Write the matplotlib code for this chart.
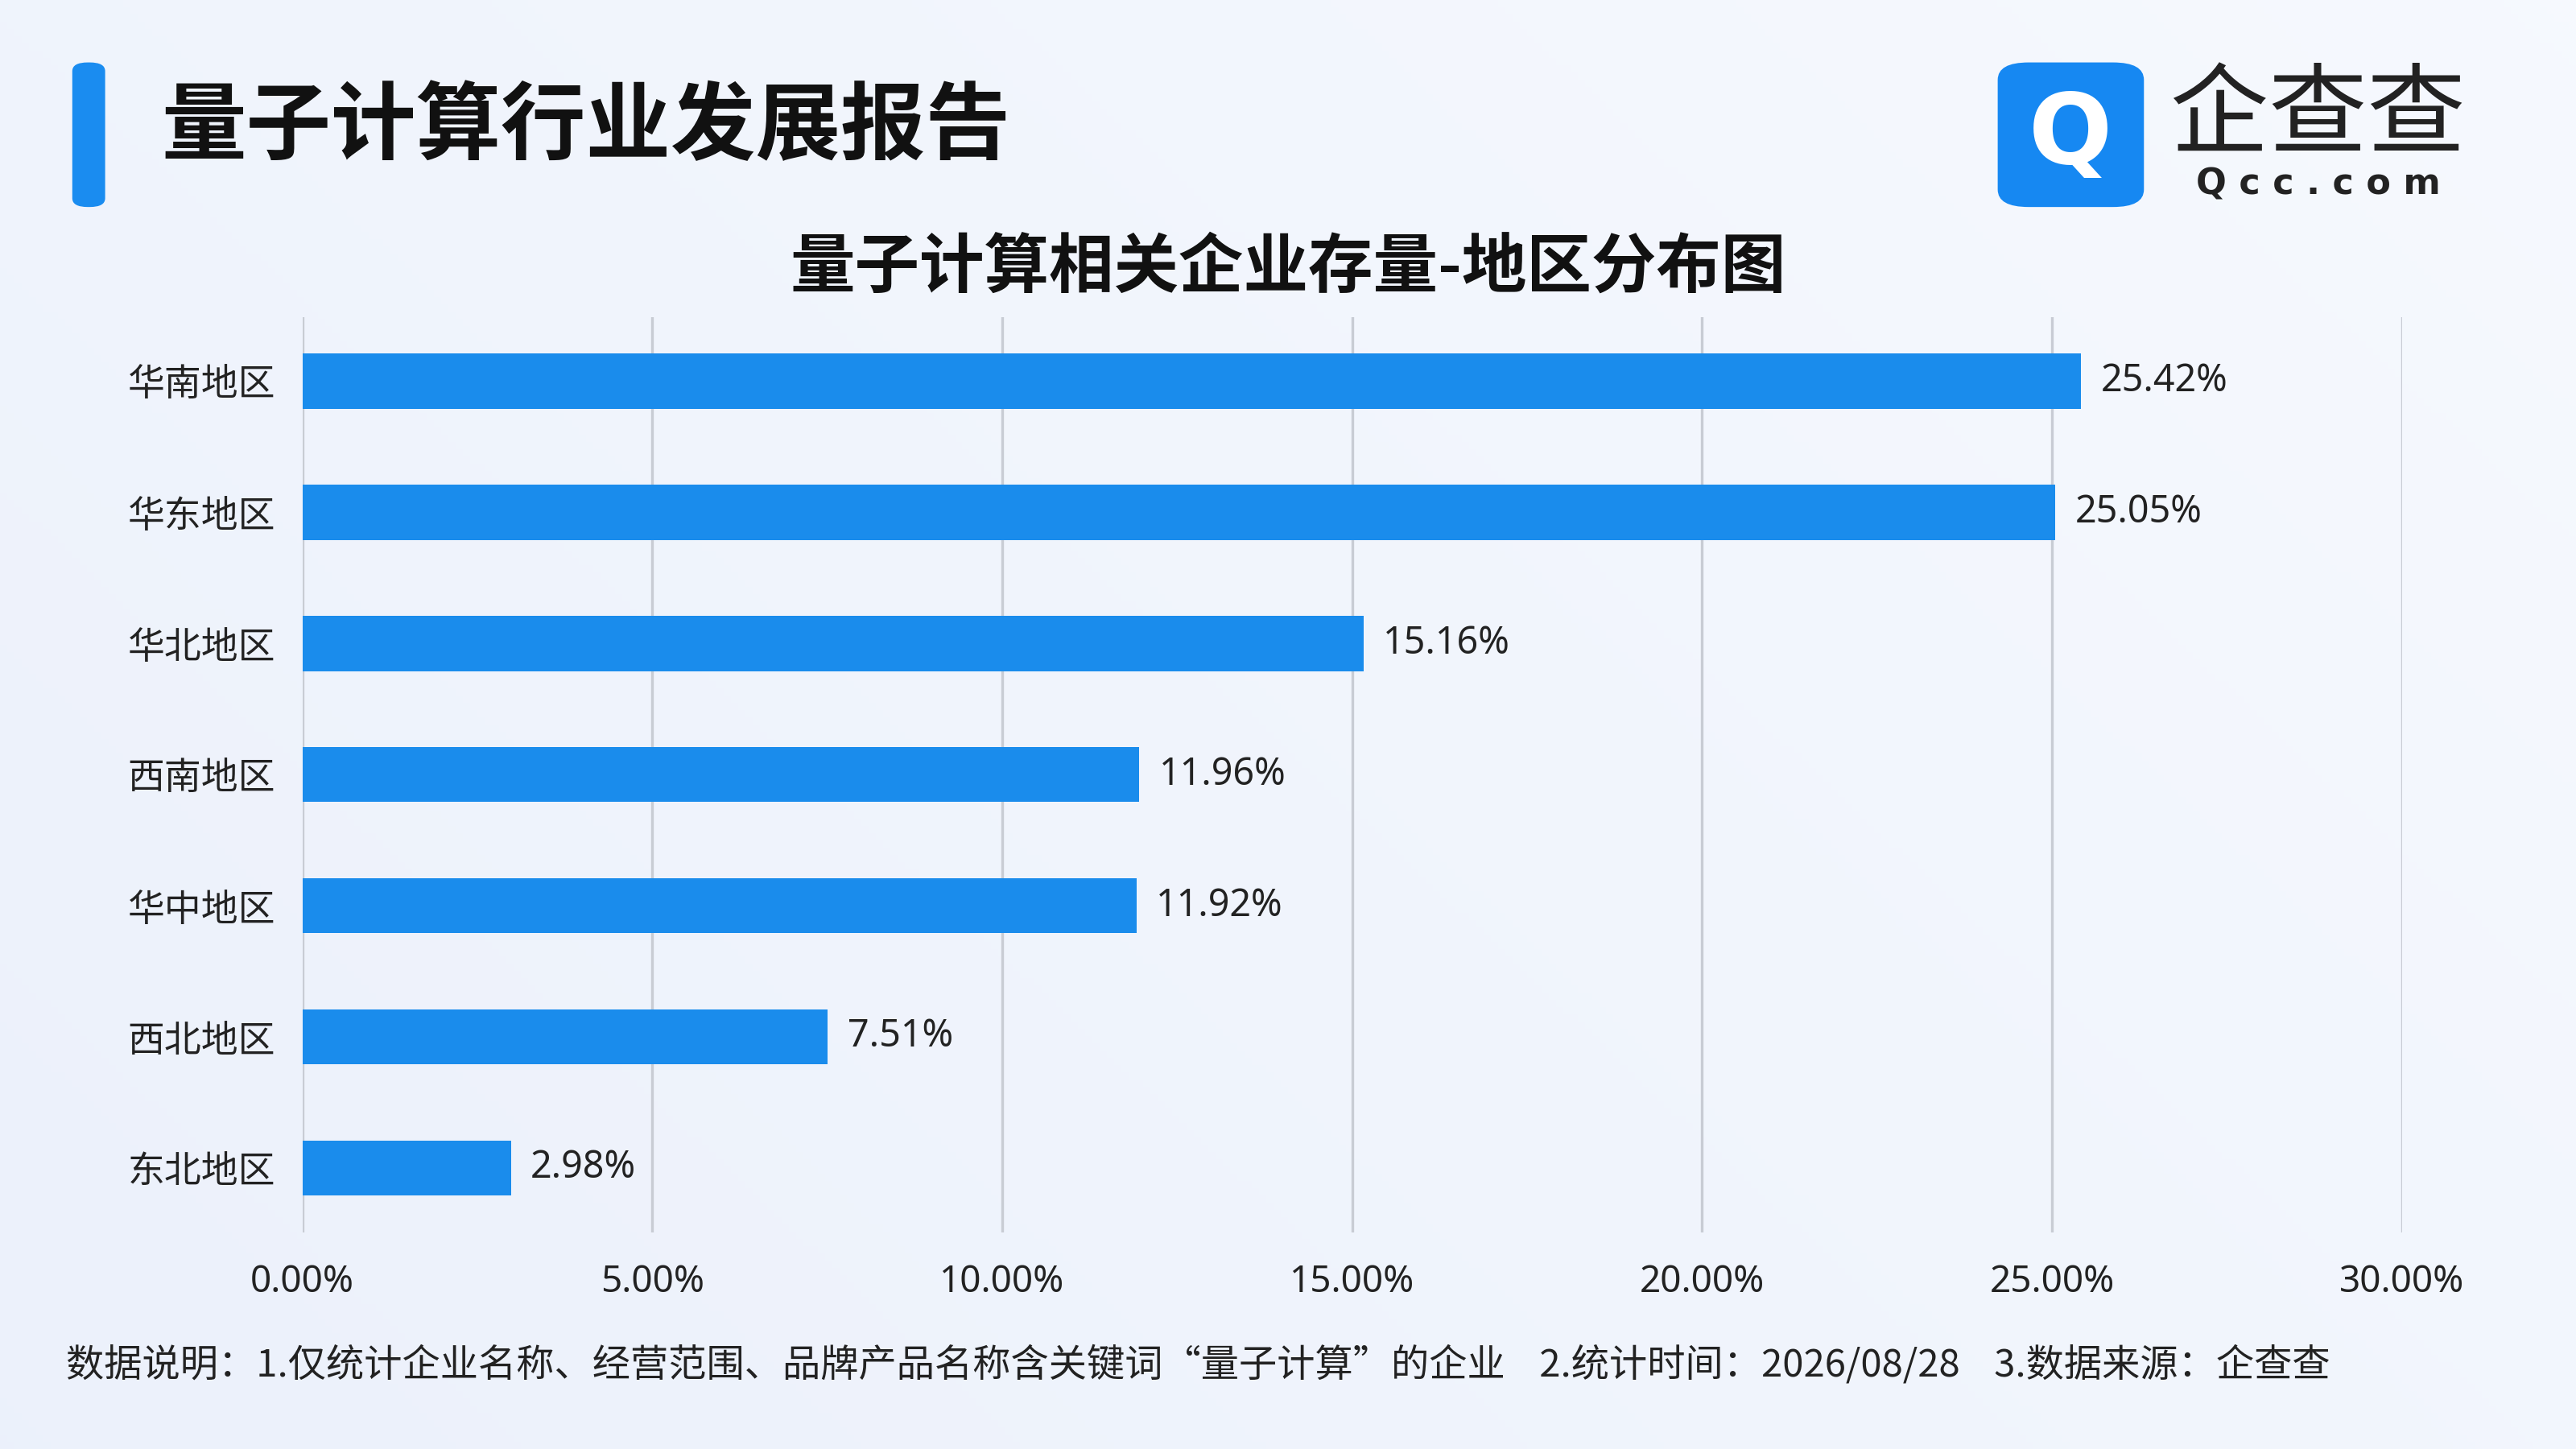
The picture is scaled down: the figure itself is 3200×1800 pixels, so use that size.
import matplotlib
matplotlib.use("Agg")
import matplotlib.pyplot as plt
import numpy as np
from matplotlib.patches import FancyBboxPatch

plt.rcParams['font.family'] = ['Noto Sans', 'Noto Sans CJK SC', 'DejaVu Sans']
CJK = ['Noto Sans CJK SC', 'DejaVu Sans']

regions = ["华南地区", "华东地区", "华北地区", "西南地区", "华中地区", "西北地区", "东北地区"]
values = [25.42, 25.05, 15.16, 11.96, 11.92, 7.51, 2.98]
xticks = [0, 5, 10, 15, 20, 25, 30]

W, H = 1568, 882
fig = plt.figure(figsize=(16, 9), dpi=200)

bg = fig.add_axes([0, 0, 1, 1], zorder=-10)
yy, xx = np.mgrid[0:1:200j, 0:1:356j]
g = 0.5 * xx + 0.3 * (1 - yy)
c0 = np.array([0.925, 0.945, 0.985]); c1 = np.array([0.975, 0.985, 1.0])
img = c0[None, None, :] * (1 - g[..., None]) + c1[None, None, :] * g[..., None]
bg.imshow(img, aspect='auto', extent=[0, 1, 0, 1])
bg.set_xlim(0, 1); bg.set_ylim(0, 1); bg.axis('off')

def fx(x): return x / W
def fy(y): return 1 - y / H

fig.patches.append(FancyBboxPatch((fx(44), fy(126)), fx(20), 88 / H,
    boxstyle="round,pad=0,rounding_size=0.006", transform=fig.transFigure,
    facecolor="#1a8cf0", edgecolor="none"))
fig.text(fx(98), fy(78), "量子计算行业发展报告", fontsize=38, fontweight='bold',
         color="#111111", va='center', ha='left', family=CJK)

fig.patches.append(FancyBboxPatch((fx(1216), fy(126)), fx(89), 88 / H,
    boxstyle="round,pad=0,rounding_size=0.012", transform=fig.transFigure,
    facecolor="#1688f2", edgecolor="none"))
fig.text(fx(1260), fy(83), "Q", fontsize=44, fontweight='bold', color="white",
         ha='center', va='center', family=['DejaVu Sans'])
fig.text(fx(1411), fy(72), "企查查", fontsize=44, color="#222222", ha='center', va='center', family=CJK)
fig.text(fx(1411), fy(112), "Q c c . c o m", fontsize=16, fontweight='bold',
         color="#222222", ha='center', va='center', family=['DejaVu Sans'])

fig.text(fx(784), fy(163), "量子计算相关企业存量-地区分布图", fontsize=29, fontweight='bold',
         color="#111111", ha='center', va='center', family=CJK)

ax = fig.add_axes([fx(184), fy(750), fx(1462 - 184), (750 - 193) / H])
ax.patch.set_alpha(0)
y = np.arange(len(regions))
ax.barh(y, values, height=0.42, color="#1a8cec", zorder=3)
for yi, v in zip(y, values):
    ax.text(v + 0.28, yi, f"{v:.2f}%", va='center', ha='left', fontsize=16.8, color="#222222")
ax.set_xlim(0, 30)
ax.set_ylim(6.49, -0.49)
ax.set_yticks(y)
ax.set_yticklabels(regions, fontsize=16.5, color="#222222", family=CJK)
ax.set_xticks(xticks)
ax.set_xticklabels([f"{t:.2f}%" for t in xticks], fontsize=16.5, color="#222222")
ax.grid(axis='x', color="#c8ccd4", linewidth=1.2, zorder=0)
for s in ax.spines.values():
    s.set_visible(False)
ax.tick_params(length=0, pad=12)
ax.tick_params(axis='x', pad=14)

fig.text(fx(40), fy(831), "数据说明：1.仅统计企业名称、经营范围、品牌产品名称含关键词“量子计算”的企业    2.统计时间：2026/08/28    3.数据来源：企查查",
         fontsize=17, color="#222222", ha='left', va='center', family=CJK)

fig.savefig("out.png", dpi=200)
